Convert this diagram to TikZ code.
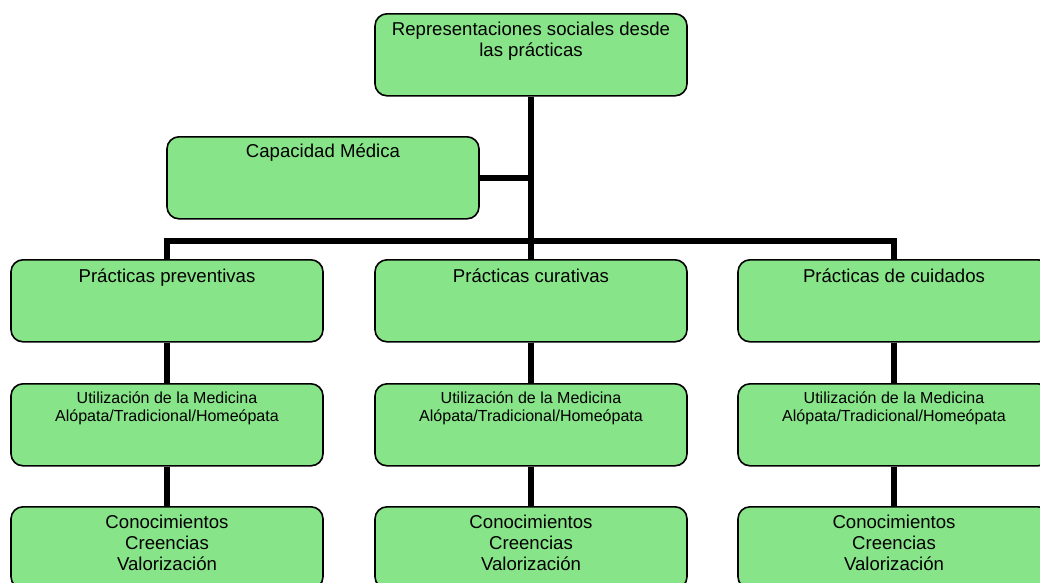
\documentclass[tikz,border=0pt]{standalone}
\usepackage{fontspec}
\setmainfont{Liberation Sans}
\definecolor{boxgreen}{RGB}{136,228,136}
\begin{document}
\begin{tikzpicture}[x=1pt,y=-1pt,
  box/.style={draw=black,line width=1.6pt,fill=boxgreen,rounded corners=12pt,
    minimum width=312pt,minimum height=82pt,inner sep=0pt,anchor=north},
  big/.style={anchor=base,inner sep=0pt,align=center,font=\fontsize{18.6}{21.3}\selectfont},
  small/.style={anchor=base,inner sep=0pt,align=center,font=\fontsize{16}{18}\selectfont},
  conn/.style={line width=5.5pt,line join=miter,line cap=butt}]
\useasboundingbox (0,0) rectangle (1040,582);
\clip (0,0) rectangle (1040,582);
\fill[white] (0,0) rectangle (1040,582);
\coordinate (bus) at (531,241);
% boxes
\node[box] (top) at (531,13) {};
\node[box] (cap) at (323,136) {};
\node[box] (p1) at (167,259) {};
\node[box] (p2) at (531,259) {};
\node[box] (p3) at (894,259) {};
\node[box] (u1) at (167,383) {};
\node[box] (u2) at (531,383) {};
\node[box] (u3) at (894,383) {};
\node[box] (c1) at (167,506) {};
\node[box] (c2) at (531,506) {};
\node[box] (c3) at (894,506) {};
% connectors
\draw[conn] (top.south) -- (p2.north);
\draw[conn] (cap.east) -- (top.south |- cap.east);
\draw[conn] (p1.north) -- (p1.north |- bus) -- (p3.north |- bus) -- (p3.north);
\draw[conn] (p1.south) -- (u1.north);
\draw[conn] (p2.south) -- (u2.north);
\draw[conn] (p3.south) -- (u3.north);
\draw[conn] (u1.south) -- (c1.north);
\draw[conn] (u2.south) -- (c2.north);
\draw[conn] (u3.south) -- (c3.north);
% texts (base anchor = baseline of the last line)
\node[big] (ttop) at (531,56.3) {Representaciones sociales desde\\las prácticas};
\node[big] (tcap) at (323,157) {Capacidad Médica};
\node[big] (tp1) at (167,282) {Prácticas preventivas};
\node[big] (tp2) at (531,282) {Prácticas curativas};
\node[big] (tp3) at (894,282) {Prácticas de cuidados};
\node[small] (tu1) at (167,421) {Utilización de la Medicina\\Alópata/Tradicional/Homeópata};
\node[small] (tu2) at (531,421) {Utilización de la Medicina\\Alópata/Tradicional/Homeópata};
\node[small] (tu3) at (894,421) {Utilización de la Medicina\\Alópata/Tradicional/Homeópata};
\node[big] (tc1) at (167,570.6) {Conocimientos\\Creencias\\Valorización};
\node[big] (tc2) at (531,570.6) {Conocimientos\\Creencias\\Valorización};
\node[big] (tc3) at (894,570.6) {Conocimientos\\Creencias\\Valorización};
\end{tikzpicture}
\end{document}
